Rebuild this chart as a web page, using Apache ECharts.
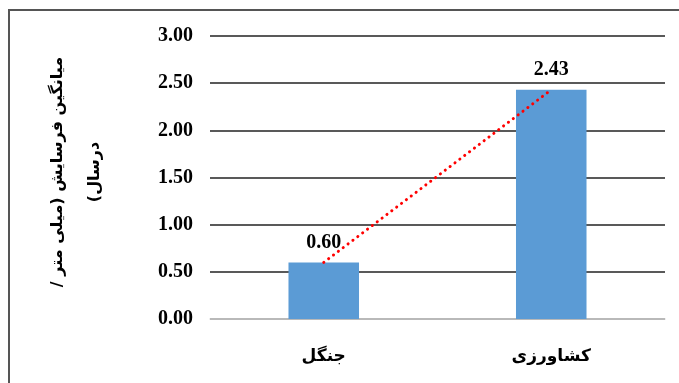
<!DOCTYPE html>
<html>
<head>
<meta charset="utf-8">
<script src="https://cdn.jsdelivr.net/npm/echarts@6/dist/echarts.min.js"></script>
<style>
  html, body { margin: 0; padding: 0; background: #fff; }
  #chart { width: 679px; height: 383px; }
</style>
</head>
<body>
<div id="chart"></div>
<script>
// data
const categories = ['جنگل', 'کشاورزی'];
const erosion = [0.60, 2.43];
const yTicks = { min: 0, max: 3, interval: 0.5 };
const yNameLines = ['میانگین فرسایش (میلی متر /', 'درسال)'];

const RLM = '\u200F';
const serif = '"Liberation Serif", "Times New Roman", serif';
const persian = '"DejaVu Sans", sans-serif';

const chart = echarts.init(document.getElementById('chart'));

const option = {
  animation: false,
  grid: { left: 210, right: 14, top: 36, bottom: 64 },
  xAxis: {
    type: 'category',
    data: categories,
    axisLine: { show: true, lineStyle: { color: '#d9d9d9', width: 1.5 } },
    axisTick: { show: false },
    axisLabel: {
      margin: 29,
      color: '#000',
      fontFamily: persian,
      fontWeight: 'bold',
      fontSize: 17
    }
  },
  yAxis: {
    type: 'value',
    min: yTicks.min,
    max: yTicks.max,
    interval: yTicks.interval,
    axisLine: { show: false },
    axisTick: { show: false },
    axisLabel: {
      margin: 17,
      color: '#000',
      fontFamily: serif,
      fontWeight: 'bold',
      fontSize: 20,
      formatter: v => v.toFixed(2)
    },
    splitLine: { lineStyle: { color: '#222', width: 1.5 } }
  },
  series: [
    {
      name: 'erosion',
      type: 'bar',
      data: erosion,
      barWidth: '31%',
      itemStyle: { color: '#5B9BD5' },
      label: {
        show: true,
        position: 'top',
        distance: 10,
        color: '#000',
        fontFamily: serif,
        fontWeight: 'bold',
        fontSize: 20,
        formatter: p => p.value.toFixed(2)
      }
    },
    {
      name: 'trend',
      type: 'line',
      data: erosion,
      symbol: 'none',
      z: 5,
      lineStyle: {
        color: '#FF0000',
        width: 3,
        type: [0.1, 6],
        cap: 'round'
      }
    }
  ],
  graphic: [
    {
      type: 'rect',
      shape: { x: 9, y: 10, width: 700, height: 400 },
      style: { fill: 'none', stroke: '#555', lineWidth: 2 },
      silent: true
    },
    {
      type: 'text',
      x: 58, y: 172,
      rotation: Math.PI / 2,
      style: {
        text: RLM + yNameLines[0] + RLM,
        fill: '#000',
        font: 'bold 16px ' + persian,
        align: 'center',
        verticalAlign: 'middle'
      }
    },
    {
      type: 'text',
      x: 95, y: 172,
      rotation: Math.PI / 2,
      style: {
        text: RLM + yNameLines[1] + RLM,
        fill: '#000',
        font: 'bold 16px ' + persian,
        align: 'center',
        verticalAlign: 'middle'
      }
    }
  ]
};

chart.setOption(option);
</script>
</body>
</html>
